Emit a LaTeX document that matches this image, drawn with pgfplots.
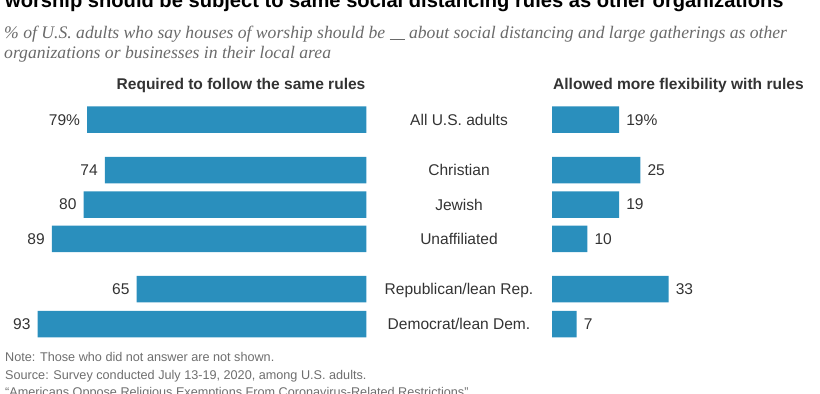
\documentclass[border=0pt]{standalone}
\usepackage{pgfplots}
\pgfplotsset{compat=1.18}
\usepackage{fontspec}
\setmainfont{Liberation Sans}
\newfontfamily\subfont{Liberation Serif}
\definecolor{barblue}{HTML}{2A8FBD}
\definecolor{txt}{HTML}{333333}
\definecolor{notec}{HTML}{6E6E6E}
\definecolor{subc}{HTML}{6A6A6A}
\begin{document}
\begin{tikzpicture}
\useasboundingbox (0bp,0bp) rectangle (820bp,394bp);
\clip (0bp,0bp) rectangle (820bp,394bp);
% title (cut at top, as in the reference)
\node[anchor=base west, inner sep=0, font=\fontsize{20.2}{22}\selectfont\bfseries, text=black] at (5bp,386.5bp)
  {worship should be subject to same social distancing rules as other organizations};
% subtitle
\node[anchor=base west, inner sep=0, font=\subfont\itshape\fontsize{17.7}{20}\selectfont, text=subc] at (4bp,355.7bp)
  {\% of U.S. adults who say houses of worship should be \rule[-1.5bp]{15bp}{0.7bp} about social distancing and large gatherings as other};
\node[anchor=base west, inner sep=0, font=\subfont\itshape\fontsize{17.7}{20}\selectfont, text=subc] at (4bp,335.7bp)
  {organizations or businesses in their local area};
% headers
\node[anchor=base, inner sep=0, font=\fontsize{15.6}{18}\selectfont\bfseries, text=txt] at (241bp,304.7bp)
  {Required to follow the same rules};
\node[anchor=base west, inner sep=0, font=\fontsize{15.6}{18}\selectfont\bfseries, text=txt] at (553bp,304.7bp)
  {Allowed more flexibility with rules};
% left axis
\begin{axis}[at={(13bp,50bp)}, anchor=south west, scale only axis,
  width=353.4bp, height=250bp, xmin=0, xmax=100, ymin=94, ymax=344,
  x dir=reverse, y dir=reverse, hide axis, xbar, bar width=26.5bp, clip=false,
  point meta=explicit symbolic, nodes near coords,
  nodes near coords style={anchor=east, inner sep=0pt, xshift=-7bp,
    font=\fontsize{15.6}{18}\selectfont, text=txt}]
\addplot[fill=barblue, draw=none] coordinates {
 (79,119.7) [79\%]
 (74,170) [74]
 (80,204.5) [80]
 (89,238.8) [89]
 (65,289) [65]
 (93,324) [93]
};
\end{axis}
% right axis
\begin{axis}[at={(552bp,50bp)}, anchor=south west, scale only axis,
  width=353.4bp, height=250bp, xmin=0, xmax=100, ymin=94, ymax=344,
  y dir=reverse, hide axis, xbar, bar width=26.5bp, clip=false,
  point meta=explicit symbolic, nodes near coords,
  nodes near coords style={anchor=west, inner sep=0pt, xshift=7bp,
    font=\fontsize{15.6}{18}\selectfont, text=txt}]
\addplot[fill=barblue, draw=none] coordinates {
 (19,119.7) [19\%]
 (25,170) [25]
 (19,204.5) [19]
 (10,238.8) [10]
 (33,289) [33]
 (7,324) [7]
};
\end{axis}
% category labels (centered at x=459)
\foreach \yy/\lab in {119.7/All U.S. adults, 170/Christian, 204.5/Jewish, 238.8/Unaffiliated, 289/{Republican/lean Rep.}, 324/{Democrat/lean Dem.}}{
  \node[anchor=base, inner sep=0, font=\fontsize{15.6}{18}\selectfont, text=txt] at (459bp,{(394-\yy-5.6)*1bp}) {\lab};
}
% notes
\node[anchor=base west, inner sep=0, font=\fontsize{12.7}{14}\selectfont, text=notec] at (5bp,32.4bp)
  {Note: Those who did not answer are not shown.};
\node[anchor=base west, inner sep=0, font=\fontsize{12.7}{14}\selectfont, text=notec] at (5bp,14.7bp)
  {Source: Survey conducted July 13-19, 2020, among U.S. adults.};
\node[anchor=base west, inner sep=0, font=\fontsize{12.7}{14}\selectfont, text=notec] at (5bp,-2bp)
  {“Americans Oppose Religious Exemptions From Coronavirus-Related Restrictions”};
\end{tikzpicture}
\end{document}
